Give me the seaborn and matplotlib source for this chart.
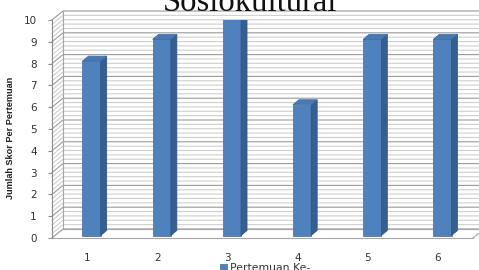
import numpy as np
import pandas as pd
import seaborn as sns
import matplotlib.pyplot as plt
from matplotlib.patches import Polygon

# data
pertemuan = ["1", "2", "3", "4", "5", "6"]
skor = [8, 9, 10, 6, 9, 9]
y_ticks = list(range(0, 11))

df = pd.DataFrame({"pertemuan": pertemuan, "skor": skor})

W, H = 479, 270
fig = plt.figure(figsize=(W / 100, H / 100), dpi=100)
ax = fig.add_axes([52 / W, 32 / H, 421 / W, 218 / H])

n = len(pertemuan)
ax.set_xlim(-0.5, n - 0.5)
ax.set_ylim(0, 10)

# pixel -> data units
ux = n / 421
uy = 10 / 218

# back wall offset (pseudo 3D)
wdx, wdy = 11 * ux, 9 * uy
grid_kw = dict(clip_on=False, zorder=0.5)
for v in np.arange(0, 10.001, 0.2):
    major = abs(v - round(v)) < 1e-6
    ax.plot([-0.5, -0.5 + wdx, n - 0.5 + wdx + 0.2], [v, v + wdy, v + wdy],
            color="#9a9a9a" if major else "#cfcfcf", lw=0.8, **grid_kw)
# wall edges and floor
edge = "#a6a6a6"
ax.plot([-0.5 + wdx, -0.5 + wdx], [wdy, 10 + wdy], color=edge, lw=0.8, **grid_kw)
ax.plot([-0.5 + wdx, n - 0.5 + wdx + 0.2], [wdy, wdy], color=edge, lw=0.8, **grid_kw)
ax.plot([n - 0.5, n - 0.5 + wdx], [0, wdy], color=edge, lw=0.8, **grid_kw)

sns.barplot(data=df, x="pertemuan", y="skor", color="#4F81BD", saturation=1,
            width=0.26, edgecolor="#3F6A9E", linewidth=0.5, ax=ax, zorder=3)

# shift bars into depth and add side / top faces
fdx, fdy = 4.5 * ux, 2.5 * uy
bdx, bdy = 6 * ux, 5 * uy
for p in list(ax.patches):
    x0 = p.get_x() + fdx
    w = p.get_width()
    h = p.get_height()
    p.set_x(x0)
    p.set_y(fdy)
    x1 = x0 + w
    top = h + fdy
    side = Polygon([(x1, fdy), (x1, top), (x1 + bdx, top + bdy), (x1 + bdx, fdy + bdy)],
                   closed=True, facecolor="#365F91", edgecolor="#2F5280", lw=0.5, zorder=3)
    cap = Polygon([(x0, top), (x1, top), (x1 + bdx, top + bdy), (x0 + bdx, top + bdy)],
                  closed=True, facecolor="#4A78B0", edgecolor="#3F6A9E", lw=0.5, zorder=3)
    ax.add_patch(side)
    ax.add_patch(cap)

for s in ["top", "right"]:
    ax.spines[s].set_visible(False)
ax.spines["left"].set_color("#8c8c8c")
ax.spines["bottom"].set_color("#a6a6a6")
ax.spines["left"].set_linewidth(0.8)
ax.spines["bottom"].set_linewidth(0.8)

ax.set_yticks(y_ticks)
ax.tick_params(axis="y", length=3, color="#8c8c8c", pad=8, labelsize=7.5,
               labelcolor="#333333")
ax.tick_params(axis="x", length=0, pad=11, labelsize=7.5, labelcolor="#333333")

ax.set_xlabel("")
ax.set_ylabel("Jumlah Skor Per Pertemuan", family="Liberation Sans",
              fontsize=6.6, fontweight="bold", color="#202020")
ax.yaxis.set_label_coords(-37 / 421, 0.46)

fig.text(250 / W, 1 - 11 / H, "Sosiokultural", family="Liberation Serif",
         fontsize=23.5, ha="center", va="baseline", color="#111111")

ax.legend(handles=[ax.patches[0]], labels=["Pertemuan Ke-"], loc="upper center",
          bbox_to_anchor=(265 / W, 12 / H), bbox_transform=fig.transFigure,
          frameon=False, fontsize=7.8, handlelength=0.6, handleheight=0.6,
          handletextpad=0.3, borderpad=0, labelcolor="#333333")

fig.savefig("out.png", dpi=100)
